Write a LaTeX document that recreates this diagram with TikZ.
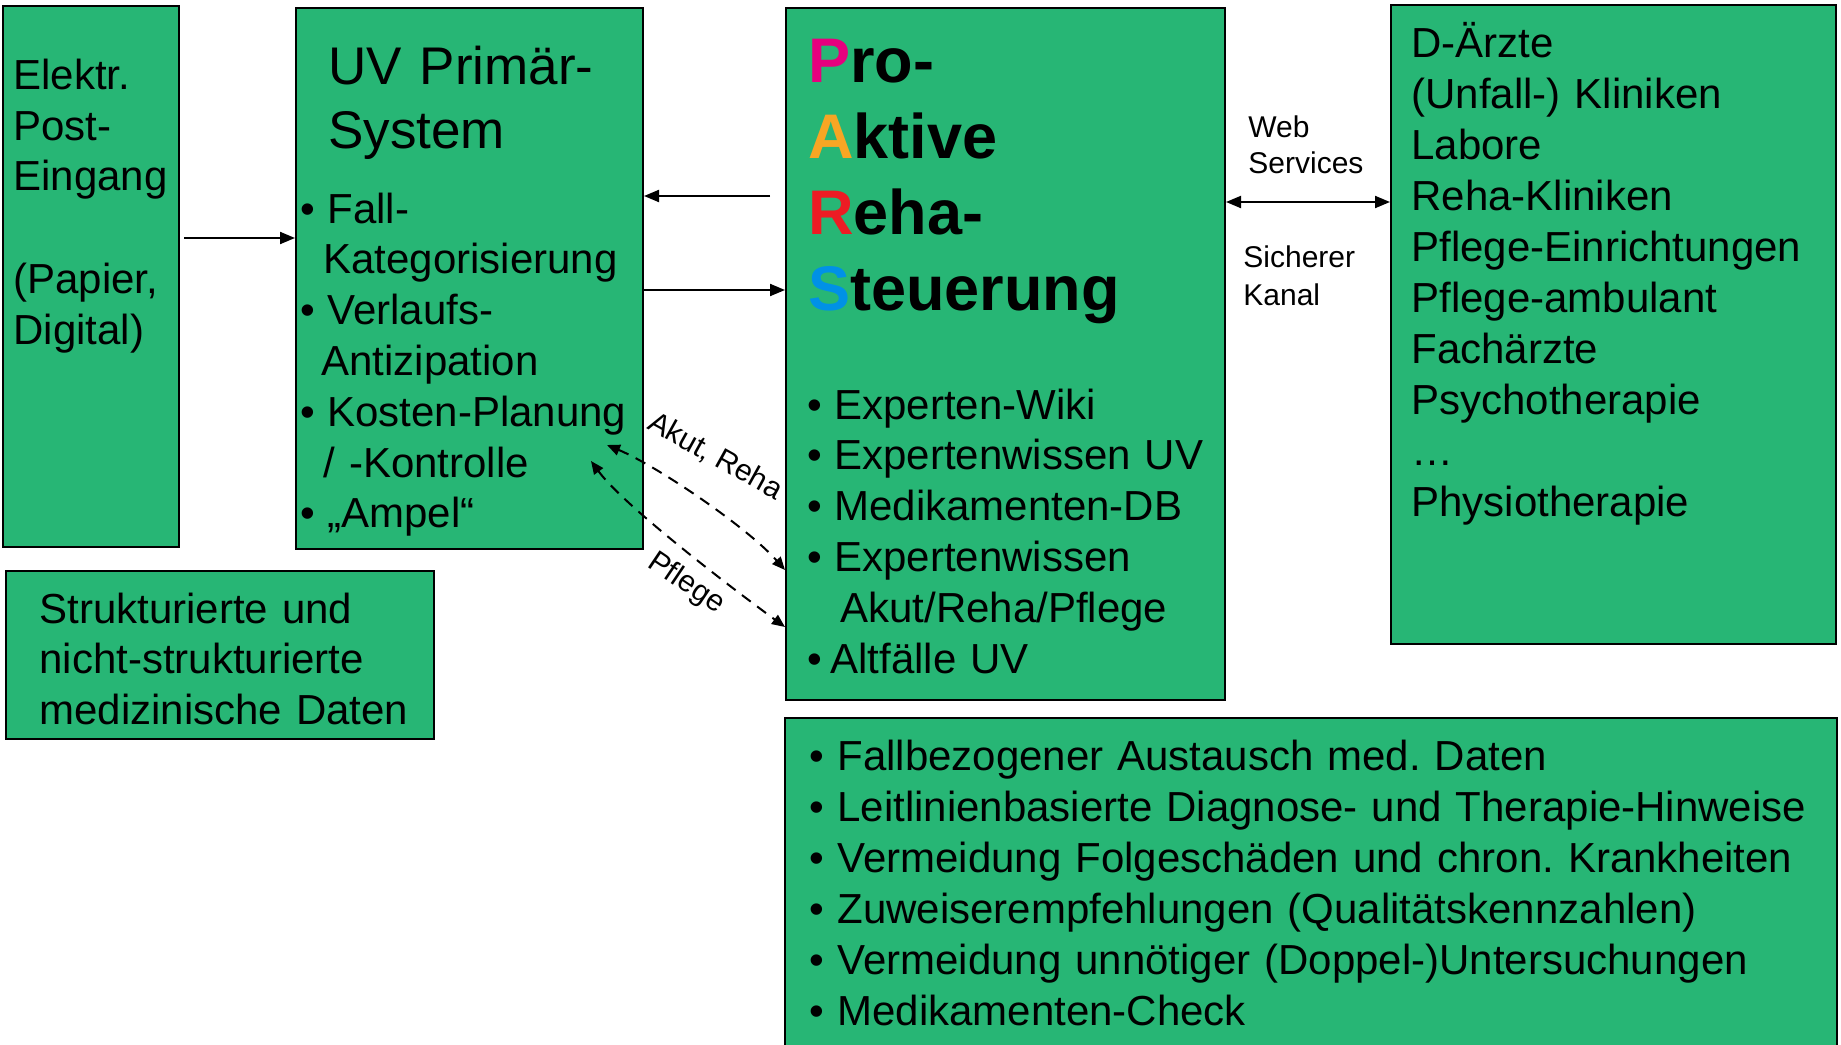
\documentclass[tikz,border=0pt]{standalone}
\usepackage{fontspec}
\setmainfont{Liberation Sans}
\usetikzlibrary{arrows.meta}
\usetikzlibrary{fit}
\definecolor{boxgreen}{RGB}{39,182,117}
\definecolor{parsP}{RGB}{230,0,126}
\definecolor{parsA}{RGB}{247,166,36}
\definecolor{parsR}{RGB}{237,28,36}
\definecolor{parsS}{RGB}{0,145,230}
\newcommand{\bul}{\makebox[13.5pt][l]{•}}
\frenchspacing

\begin{document}
\begin{tikzpicture}
				[x=0.5pt, y=-0.5pt,
				box/.style={draw=black, fill=boxgreen, line width=1pt, inner sep=0pt},
				txt/.style={anchor=base west, inner sep=0pt, align=left, font=\fontsize{21}{25.5}\selectfont},
				small/.style={txt, font=\fontsize{15}{18.5}\selectfont},
				lbl/.style={anchor=base west, inner sep=0pt, font=\fontsize{15}{18}\selectfont},
				arr/.style={-{Triangle[length=7.5pt,width=6pt]}, line width=1pt},
				dblarr/.style={{Triangle[length=7.5pt,width=6pt]}-{Triangle[length=7.5pt,width=6pt]}, line width=1pt},
				dasharr/.style={{Triangle[length=6.5pt,width=5.5pt]}-{Triangle[length=6.5pt,width=5.5pt]}, line width=1pt, dash pattern=on 5.5pt off 4pt}]
				
				\useasboundingbox (0,0) rectangle (1841,1044);
				
				\node[box, fit={(3,6) (179,547)}] (post) {};
				\node[box, fit={(296,8) (643,549)}] (prim) {};
				\node[box, fit={(786,8) (1225,700)}] (pars) {};
				\node[box, fit={(1391,5) (1836,644)}] (aerzte) {};
				\node[box, fit={(6,571) (434,739)}] (daten) {};
				\node[box, fit={(785,718) (1837,1060)}] (nutzen) {};
				
				\node[txt, text width=82pt] (postT) at (13,89) {Elektr.\\ Post-\\ Eingang\\[25.5pt] (Papier,\\ Digital)};
				
				\node[txt, text width=140pt, font=\fontsize{26.5}{32}\selectfont] (primT) at (328,84) {UV Primär-\\ System};
				\node[txt, text width=170pt, font=\fontsize{21}{25.4}\selectfont] (primL) at (300,223)
					{\bul Fall-\\ \hspace*{11.5pt}Kategorisierung\\ \bul Verlaufs-\\ \hspace*{10.5pt}Antizipation\\
					 \bul Kosten-Planung\\ \hspace*{11.5pt}/ -Kontrolle\\ \bul „Ampel“};
				
				\node[txt, text width=170pt, font=\fontsize{31.5}{38}\selectfont\bfseries] (parsT) at (808,82)
					{{\color{parsP}P}ro-\\ {\color{parsA}A}ktive\\ {\color{parsR}R}eha-\\ {\color{parsS}S}teuerung};
				\node[txt, text width=205pt, font=\fontsize{21}{25.4}\selectfont] (parsL) at (807,419)
					{\bul Experten-Wiki\\ \bul Expertenwissen UV\\ \bul Medikamenten-DB\\ \bul Expertenwissen\\
					 \hspace*{16.5pt}Akut/Reha/Pflege\\ \makebox[11.5pt][l]{•}Altfälle UV};
				
				\node[small, text width=70pt, font=\fontsize{15}{18}\selectfont] (web) at (1248,137) {Web\\ Services};
				\node[small, text width=68pt, font=\fontsize{15}{19}\selectfont] (kanal) at (1243,267) {Sicherer\\ Kanal};
				
				\node[txt, text width=205pt] (aerzteT) at (1411,57) {D-Ärzte\\ (Unfall-) Kliniken\\ Labore\\ Reha-Kliniken\\ Pflege-Einrichtungen\\
					Pflege-ambulant\\ Fachärzte\\ Psychotherapie\\ …\\ Physiotherapie};
				
				\node[txt, text width=190pt, font=\fontsize{21}{25.4}\selectfont] (datenT) at (39,623) {Strukturierte und\\ nicht-strukturierte\\ medizinische Daten};
				
				\node[txt, text width=505pt] (nutzenT) at (809,770)
					{\makebox[14pt][l]{•}Fallbezogener Austausch med. Daten\\ \makebox[14pt][l]{•}Leitlinienbasierte Diagnose- und Therapie-Hinweise\\
					 \makebox[14pt][l]{•}Vermeidung Folgeschäden und chron. Krankheiten\\ \makebox[14pt][l]{•}Zuweiserempfehlungen (Qualitätskennzahlen)\\
					 \makebox[14pt][l]{•}Vermeidung unnötiger (Doppel-)Untersuchungen\\ \makebox[14pt][l]{•}Medikamenten-Check};
				
				\draw[arr, shorten <=2pt] (post.east |- 0,238) -- (prim.west |- 0,238);
				\draw[arr, shorten <=7.5pt] (pars.west |- 0,196) -- (prim.east |- 0,196);
				\draw[arr] (prim.east |- 0,290) -- (pars.west |- 0,290);
				\draw[dblarr] (pars.east |- 0,202) -- (aerzte.west |- 0,202);
				
				\coordinate (kp1) at (607,445);
				\coordinate (kp2) at (591,461);
				\draw[dasharr] (kp1) .. controls (657,466) and (747,527) .. (pars.west |- 0,570);
				\draw[dasharr] (kp2) .. controls (624,506) and (733,589) .. (pars.west |- 0,627);
				\node[lbl, rotate=-29] (akut) at (646,428) {Akut, Reha};
				\node[lbl, rotate=-34] (pflege) at (646,566) {Pflege};
			\end{tikzpicture}
\end{document}
